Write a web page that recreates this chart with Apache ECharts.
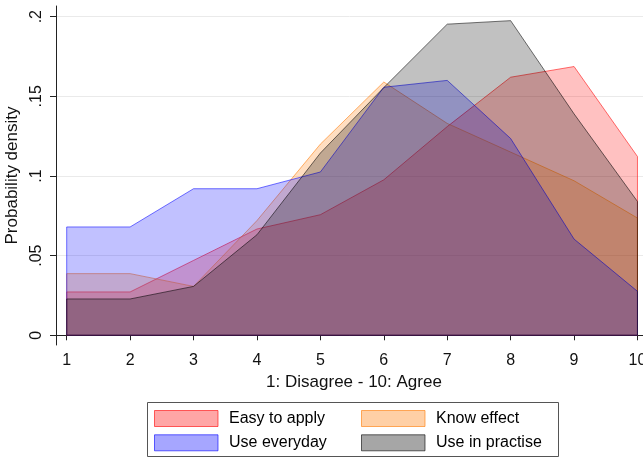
<!DOCTYPE html>
<html><head><meta charset="utf-8">
<script src="https://cdn.jsdelivr.net/npm/echarts@6/dist/echarts.min.js"></script>
<style>html,body{margin:0;padding:0;background:#fff}#c{width:643px;height:457px}</style>
</head><body><div id="c"></div>
<script>
const scores = [1,2,3,4,5,6,7,8,9,10];
const easyToApply   = [0.0272,0.0272,0.047,0.0667,0.0757,0.0976,0.131,0.162,0.1687,0.1122];
const knowEffect    = [0.0387,0.0387,0.0307,0.072,0.12,0.159,0.133,0.115,0.097,0.0736];
const useEveryday   = [0.068,0.068,0.092,0.092,0.1025,0.1557,0.160,0.1235,0.0604,0.0276];
const useInPractise = [0.0228,0.0228,0.0307,0.0631,0.1144,0.1555,0.1953,0.1975,0.139,0.084];
const seriesNames = ['Easy to apply','Know effect','Use everyday','Use in practise'];
const yTicks = [0,0.05,0.1,0.15,0.2];
const yTickLabels = ['0','.05','.1','.15','.2'];
const xTicks = scores;
const xTitle = '1: Disagree - 10: Agree';
const yTitle = 'Probability density';

const FONT = '"Liberation Sans", Arial, Helvetica, sans-serif';
const baseColors = ['255,0,0','255,120,0','0,0,255','0,0,0'];
const ALPHA = 0.35;
const LINE_ALPHA = 0.55;
const values = [easyToApply, knowEffect, useEveryday, useInPractise];

function polygonData(vals){
  const pts = [[scores[0],0]];
  scores.forEach((x,i)=>pts.push([x,vals[i]]));
  pts.push([scores[scores.length-1],0]);
  pts.push([scores[0],0]);
  return pts;
}

const series = values.map((vals,k)=>({
  name: seriesNames[k],
  type: 'line',
  data: polygonData(vals),
  showSymbol: false,
  symbol: 'none',
  silent: true,
  lineStyle: {color: 'rgba('+baseColors[k]+','+LINE_ALPHA+')', width: 1},
  itemStyle: {color: 'rgba('+baseColors[k]+','+ALPHA+')'},
  areaStyle: {color: 'rgba('+baseColors[k]+','+ALPHA+')', origin: 0},
  z: 2 + k
}));

function legendItem(k){
  return {name: seriesNames[k], itemStyle: {color: 'rgba('+baseColors[k]+','+ALPHA+')', borderColor: 'rgba('+baseColors[k]+',0.6)', borderWidth: 1}};
}
const legendCommon = {
  orient: 'vertical', top: 410, itemWidth: 63.5, itemHeight: 16, itemGap: 7.3,
  icon: 'rect', padding: 0, selectedMode: false,
  textStyle: {fontSize: 16, color: '#000', fontFamily: FONT, lineHeight: 16, padding: [0,0,0,6]}
};

const chart = echarts.init(document.getElementById('c'), null, {renderer: 'canvas'});
chart.setOption({
  animation: false,
  backgroundColor: '#fff',
  grid: {left: 56, right: 0, top: 6, bottom: 112, containLabel: false, outerBoundsMode: 'none'},
  xAxis: {
    type: 'value', min: 0.8313, max: 10.087,
    axisLine: {show: true, lineStyle: {color: '#222', width: 1}},
    axisTick: {show: true, length: 5, lineStyle: {color: '#222'}, customValues: xTicks},
    axisLabel: {customValues: xTicks, fontSize: 16, color: '#111', fontFamily: FONT, margin: 8},
    splitLine: {show: false},
    name: xTitle, nameLocation: 'middle', nameGap: 27,
    nameTextStyle: {fontSize: 17, color: '#111', fontFamily: FONT, padding: [0,0,0,9]}
  },
  yAxis: {
    type: 'value', min: -0.0061, max: 0.2067,
    axisLine: {show: true, lineStyle: {color: '#222', width: 1}},
    axisTick: {show: true, length: 6, lineStyle: {color: '#222'}, customValues: yTicks},
    axisLabel: {customValues: yTicks, rotate: 90, fontSize: 16, color: '#111', fontFamily: FONT, margin: 11,
      formatter: v => { const i = yTicks.findIndex(t => Math.abs(t - v) < 1e-9); return i >= 0 ? yTickLabels[i] : ''; }},
    splitLine: {show: true, lineStyle: {color: '#eaeaea', width: 1}},
    name: yTitle, nameLocation: 'middle', nameGap: 27, nameRotate: 90,
    nameTextStyle: {fontSize: 17, color: '#111', fontFamily: FONT}
  },
  legend: [
    Object.assign({}, legendCommon, {left: 154, data: [legendItem(0), legendItem(2)]}),
    Object.assign({}, legendCommon, {left: 361, data: [legendItem(1), legendItem(3)]})
  ],
  graphic: [{type: 'rect', shape: {x: 147.5, y: 402.5, width: 411, height: 54}, style: {fill: 'none', stroke: '#555', lineWidth: 1}, silent: true}],
  series: series
});
</script></body></html>
